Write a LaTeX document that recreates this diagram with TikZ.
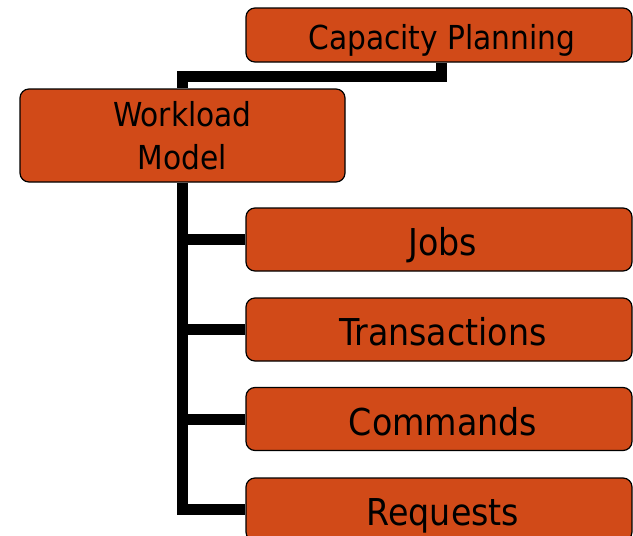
\documentclass[tikz,border=0pt]{standalone}
\usepackage{fontspec}
\setmainfont{DejaVu Sans Condensed}
\usetikzlibrary{backgrounds}
\definecolor{boxfill}{RGB}{209,74,24}
\tikzset{
  box/.style={draw=black, line width=1.2pt, fill=boxfill, rounded corners=9pt,
    text=black, inner sep=0pt, align=center},
  smallbox/.style={box, font=\fontsize{33}{43}\selectfont},
  itembox/.style={box, minimum width=386pt, minimum height=63pt,
    font=\fontsize{37}{42}\selectfont, text height=32pt, text depth=0pt,
    execute at begin node=\hspace*{8pt}},
  link/.style={draw=black, line width=11pt, line join=miter}
}
\begin{document}
\begin{tikzpicture}[x=1pt, y=-1pt]
\useasboundingbox (0,0) rectangle (633,536);
\clip (0,0) rectangle (633,536);
\node[smallbox, minimum width=386pt, minimum height=54pt, text height=29pt, text depth=0pt, execute at begin node=\hspace*{6pt}] (cp) at (439,35) {Capacity Planning};
\node[smallbox, minimum width=325pt, minimum height=93pt] (wm) at (182.5,135.5) {Workload\\Model};
\node[itembox] (jobs) at (439,239.5) {Jobs};
\node[itembox] (tr) at (439,329.5) {Transactions};
\node[itembox] (cm) at (439,419) {Commands};
\node[itembox] (rq) at (439,509.5) {Requests};
\begin{pgfonlayer}{background}
\draw[link] (cp.south) ++(2,0) -- ++(0,13.5) -| (wm.north);
\draw[link] (wm.south) |- (rq.west);
\draw[link] (jobs.west) -- (jobs.west -| wm.south);
\draw[link] (tr.west) -- (tr.west -| wm.south);
\draw[link] (cm.west) -- (cm.west -| wm.south);
\end{pgfonlayer}
\end{tikzpicture}
\end{document}
